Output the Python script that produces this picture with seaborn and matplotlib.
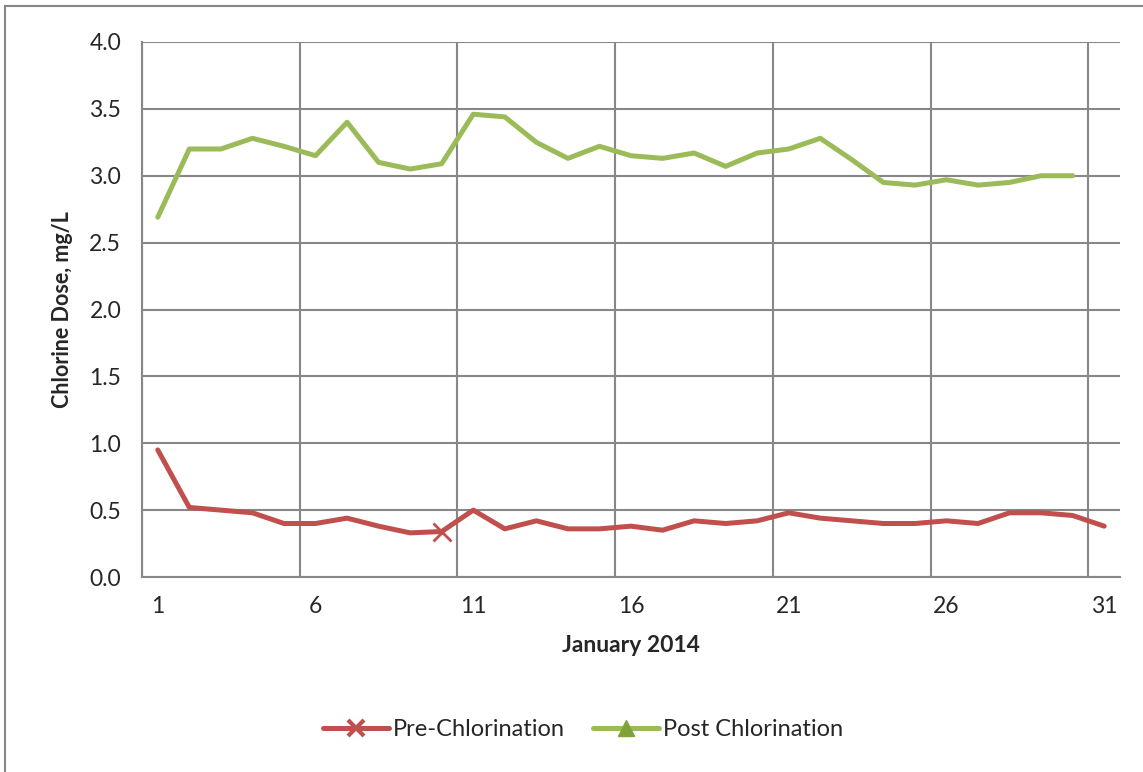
import numpy as np
import pandas as pd
import matplotlib
matplotlib.use("Agg")
import matplotlib.pyplot as plt
import seaborn as sns
from matplotlib.lines import Line2D
from matplotlib.patches import Rectangle

days_pre = list(range(1, 32))
pre_chlorination = [0.95, 0.52, 0.50, 0.48, 0.40, 0.40, 0.44, 0.38, 0.33, 0.34,
                    0.50, 0.36, 0.42, 0.36, 0.36, 0.38, 0.35, 0.42, 0.40, 0.42,
                    0.48, 0.44, 0.42, 0.40, 0.40, 0.42, 0.40, 0.48, 0.48, 0.46, 0.38]
days_post = list(range(1, 31))
post_chlorination = [2.69, 3.20, 3.20, 3.28, 3.22, 3.15, 3.40, 3.10, 3.05, 3.09,
                     3.46, 3.44, 3.25, 3.13, 3.22, 3.15, 3.13, 3.17, 3.07, 3.17,
                     3.20, 3.28, 3.12, 2.95, 2.93, 2.97, 2.93, 2.95, 3.00, 3.00]
x_labels = ["1", "6", "11", "16", "21", "26", "31"]
series_names = ["Pre-Chlorination", "Post Chlorination"]

RED = "#C0504D"
GREEN = "#9BBB59"
GRID = "#878787"

sns.set_theme(style="white")
plt.rcParams["font.family"] = ["Lato", "DejaVu Sans"]

df_pre = pd.DataFrame({"day": days_pre, "dose": pre_chlorination})
df_post = pd.DataFrame({"day": days_post, "dose": post_chlorination})

fig = plt.figure(figsize=(11.43, 7.72), dpi=100)
ax = fig.add_axes([142 / 1143, 1 - 577 / 772, (1120 - 142) / 1143, (577 - 42) / 772])

sns.lineplot(data=df_pre, x="day", y="dose", ax=ax, color=RED, lw=3.6,
             marker="x", markevery=[9], markersize=13, markeredgewidth=2,
             markeredgecolor=RED, zorder=3)
sns.lineplot(data=df_post, x="day", y="dose", ax=ax, color=GREEN, lw=3.6, zorder=3)

ax.set_xlim(0.5, 31.5)
ax.set_ylim(0, 4.0)
ax.set_yticks(np.arange(0, 4.01, 0.5))
ax.set_yticklabels([f"{v:.1f}" for v in np.arange(0, 4.01, 0.5)], fontsize=16.5)

ax.set_xticks([0.5 + 5 * k for k in range(7)])
ax.set_xticklabels([""] * 7)
ax.set_xticks([int(l) for l in x_labels], minor=True)
ax.set_xticklabels(x_labels, minor=True, fontsize=16.5)

ax.tick_params(axis="x", which="major", length=7, width=1.5, color=GRID, direction="out")
ax.tick_params(axis="x", which="minor", length=0, pad=14)
ax.tick_params(axis="y", which="major", length=7, width=1.5, color=GRID, direction="out", pad=8)

ax.grid(True, which="major", axis="both", color=GRID, lw=1.5)
ax.grid(False, which="minor")
for s in ["top", "right"]:
    ax.spines[s].set_visible(False)
for s in ["left", "bottom"]:
    ax.spines[s].set_color(GRID)
    ax.spines[s].set_linewidth(1.5)

ax.set_xlabel("January 2014", fontsize=16.5, fontweight="bold", labelpad=13)
ax.set_ylabel("Chlorine Dose, mg/L", fontsize=15.5, fontweight="bold", labelpad=12)
legend_obj = ax.get_legend()
if legend_obj:
    legend_obj.remove()

handles = [
    Line2D([0], [0], color=RED, lw=3.6, marker="x", markersize=11, markeredgewidth=3),
    Line2D([0], [0], color=GREEN, lw=3.6, marker="^", markersize=11, markerfacecolor="#7FA33A",
           markeredgecolor="#7FA33A"),
]
fig.legend(handles, series_names, loc="center", bbox_to_anchor=(0.51, 1 - 730 / 772),
           ncol=2, frameon=False, fontsize=17, handlelength=2.8, handletextpad=0.15,
           columnspacing=1.2)

fig.patches.append(Rectangle((5 / 1143, -0.01), 1.1, 1 - 6 / 772 + 0.01,
                             transform=fig.transFigure, fill=False,
                             edgecolor=GRID, lw=1.5))

fig.savefig("out.png", dpi=100)
